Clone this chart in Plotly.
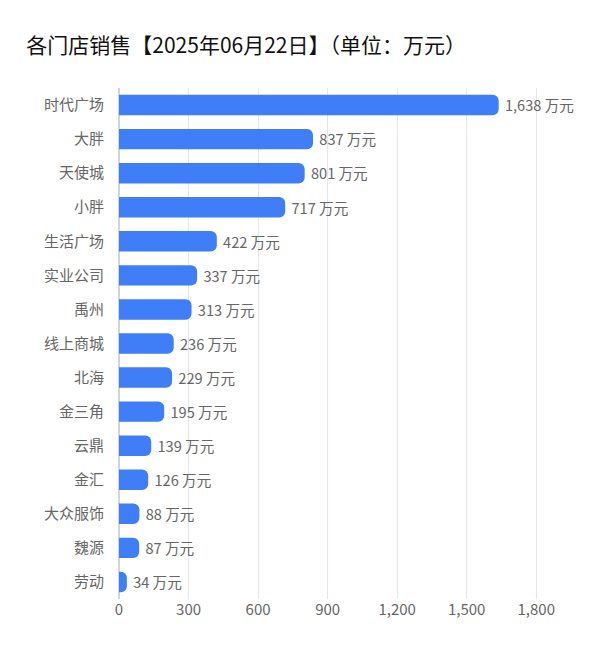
import plotly.graph_objects as go

stores = ["时代广场", "大胖", "天使城", "小胖", "生活广场", "实业公司", "禹州", "线上商城",
          "北海", "金三角", "云鼎", "金汇", "大众服饰", "魏源", "劳动"]
sales = [1638, 837, 801, 717, 422, 337, 313, 236, 229, 195, 139, 126, 88, 87, 34]
tick_vals = [0, 300, 600, 900, 1200, 1500, 1800]

fig = go.Figure()
fig.add_trace(go.Bar(
    y=stores, x=sales, orientation="h",
    marker=dict(color="#3f7ef7", cornerradius=6, line=dict(width=0)),
    width=0.6,
    text=[f" {v:,} 万元" for v in sales], textposition="outside",
    textfont=dict(color="#666666", size=15), cliponaxis=False,
))
fig.update_layout(
    width=609, height=671, template="plotly_white",
    font=dict(family="Noto Sans CJK SC", color="#666666", size=15),
    title=dict(text="各门店销售【2025年06月22日】（单位：万元）", x=0.03, y=0.955,
               font=dict(size=21, color="#111111")),
    margin=dict(l=111, r=46, t=80, b=80),
    showlegend=False,
)
fig.update_yaxes(autorange="reversed", showgrid=False, ticks="", ticklabelstandoff=14,
                 automargin=False)
fig.update_xaxes(range=[0, 1950], tickvals=tick_vals, tickformat=",", automargin=False,
                 gridcolor="#e3e6ee", zeroline=True, zerolinecolor="#d0d4dc")
fig.write_html("out.html")
